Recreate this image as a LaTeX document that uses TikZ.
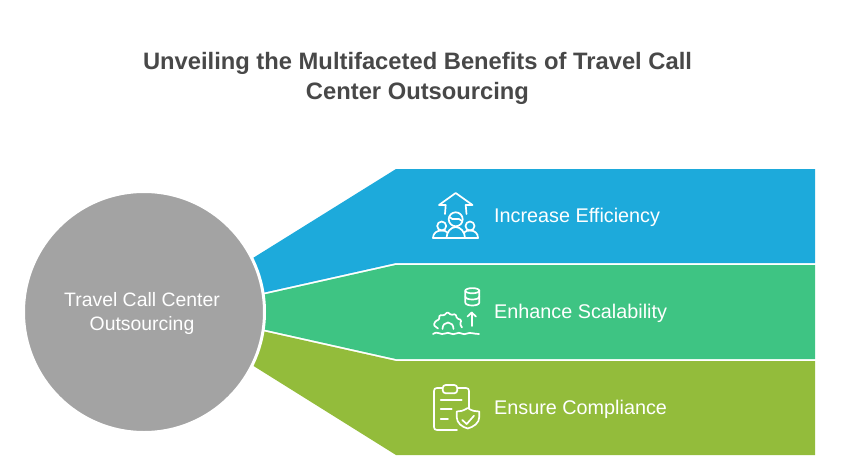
\documentclass[tikz,border=0pt]{standalone}
\usepackage{fontspec}
\setmainfont{Liberation Sans}
\usetikzlibrary{positioning}
\definecolor{myblue}{RGB}{29,170,219}
\definecolor{mygreen}{RGB}{62,196,131}
\definecolor{myolive}{RGB}{147,188,59}
\definecolor{mygrey}{RGB}{163,163,163}
\definecolor{mytitle}{RGB}{72,72,72}
\begin{document}
\begin{tikzpicture}[
    x=1pt,y=-1pt,
    hub/.style={circle,draw=white,line width=3pt,fill=mygrey,minimum size=241pt,inner sep=0pt},
    hublabel/.style={align=center,text=white,inner sep=0pt,font=\fontsize{19.4}{24}\selectfont},
    itemlabel/.style={anchor=west,text=white,inner sep=0pt,font=\fontsize{19.8}{22}\selectfont},
    heading/.style={align=center,text=mytitle,inner sep=0pt,font=\fontsize{23.75}{30}\selectfont\bfseries},
    icon/.style={draw=white,line width=1.7pt,line cap=round,line join=round}
]
    \useasboundingbox (0,0) rectangle (841,463);

    % Title
    \node[heading] (title) at (417.5,78) {Unveiling the Multifaceted Benefits of Travel Call\\Center Outsourcing};

    % Bands
    \fill[myblue] (253,258) -- (396,169) -- (815,169) -- (815,263) -- (396,263) -- (262,293) -- cycle;
    \fill[mygreen] (262,295) -- (396,265) -- (815,265) -- (815,359) -- (396,359) -- (262,329) -- cycle;
    \fill[myolive] (262,331) -- (396,361) -- (815,361) -- (815,455) -- (396,455) -- (252,365) -- cycle;

    % Hub
    \node[hub] (hub) at (144,312) {};
    \node[hublabel] (hubtext) at (142,313) {Travel Call Center\\Outsourcing};

    % Labels
    \node[itemlabel] (efficiency) at (494,217.5) {Increase Efficiency};
    \node[itemlabel] (scalability) at (494,313.5) {Enhance Scalability};
    \node[itemlabel] (compliance) at (494,409.5) {Ensure Compliance};

    % Icon for efficiency: arrow over three people
    \draw[icon] (445,214) -- (445.7,205) -- (439,205) -- (455.7,193) -- (472.5,205) -- (465.7,205) -- (466.5,214);
    \draw[icon] (455.7,219.3) circle (7);
    \draw[icon] (449.5,217) .. controls (453,222) and (458,216) .. (462,221);
    \draw[icon] (441.7,226) circle (4.5);
    \draw[icon] (470,226) circle (4.5);
    \draw[icon] (433,238) -- (478,238);
    \draw[icon] (433,238) .. controls (433,233) and (437,230.5) .. (441.7,230.5) .. controls (444,230.5) and (446,231) .. (447.5,232.5);
    \draw[icon] (478,238) .. controls (478,233) and (474.5,230.5) .. (470,230.5) .. controls (467.5,230.5) and (465.5,231) .. (464,232.5);
    \draw[icon] (446.5,238) .. controls (446.5,232) and (451,227) .. (455.7,227) .. controls (460.5,227) and (465,232) .. (465,238);

    % Icon for scalability: database, arrow, gear, waves
    \draw[icon] (472.3,290.7) ellipse (7 and 2.6);
    \draw[icon] (465.3,290.7) -- (465.3,302.5) .. controls (465.3,306.5) and (479.3,306.5) .. (479.3,302.5) -- (479.3,290.7);
    \draw[icon] (465.3,296.5) .. controls (465.3,300.5) and (479.3,300.5) .. (479.3,296.5);
    \draw[icon] (471.7,326) -- (471.7,312.5);
    \draw[icon] (467.5,316.5) -- (471.7,312.5) -- (475.9,316.5);
    \draw[icon,rounded corners=1.2pt] (438,328.5) -- (433.5,325) -- (436,320.5) -- (439,320) -- (439.5,315) -- (444,315.5) -- (447.5,312) -- (451,315) -- (455.5,314) -- (457,318.5) -- (461.5,320) -- (460,324) -- (462,327.5);
    \draw[icon] (442.5,329) .. controls (442.5,325) and (445,322.5) .. (448,322.5) .. controls (451,322.5) and (453.5,325) .. (453.5,329);
    \draw[icon] (433,334) .. controls (437,330) and (441,336) .. (445,333.5) .. controls (449,331) and (452,336) .. (456,333.5) .. controls (460,331) and (463,336) .. (467,333.5) .. controls (470,332) and (474,334) .. (479,334);

    % Icon for compliance: clipboard and shield
    \draw[icon] (442.7,388) -- (437,388) .. controls (435,388) and (434,389) .. (434,391) -- (434,427) .. controls (434,429) and (435,430) .. (437,430) -- (457,430);
    \draw[icon] (457.3,388) -- (466,388) .. controls (468,388) and (469,389) .. (469,391) -- (469,408);
    \draw[icon,rounded corners=3pt] (442.7,385) rectangle (457.3,393.3);
    \draw[icon] (440.7,400) -- (461.7,400);
    \draw[icon] (440.7,409.3) -- (451.7,409.3);
    \draw[icon] (440.7,419.3) -- (448,419.3);
    \draw[icon] (467.7,408) .. controls (463,411) and (460,411.5) .. (456.7,411.5) -- (456.7,417) .. controls (456.7,423) and (462,427) .. (467.7,428.5) .. controls (473.5,427) and (479.3,423) .. (479.3,417) -- (479.3,411.5) .. controls (475.5,411.5) and (472,411) .. (467.7,408) -- cycle;
    \draw[icon] (462.3,420) -- (466.7,424) -- (474,415.7);
\end{tikzpicture}
\end{document}
